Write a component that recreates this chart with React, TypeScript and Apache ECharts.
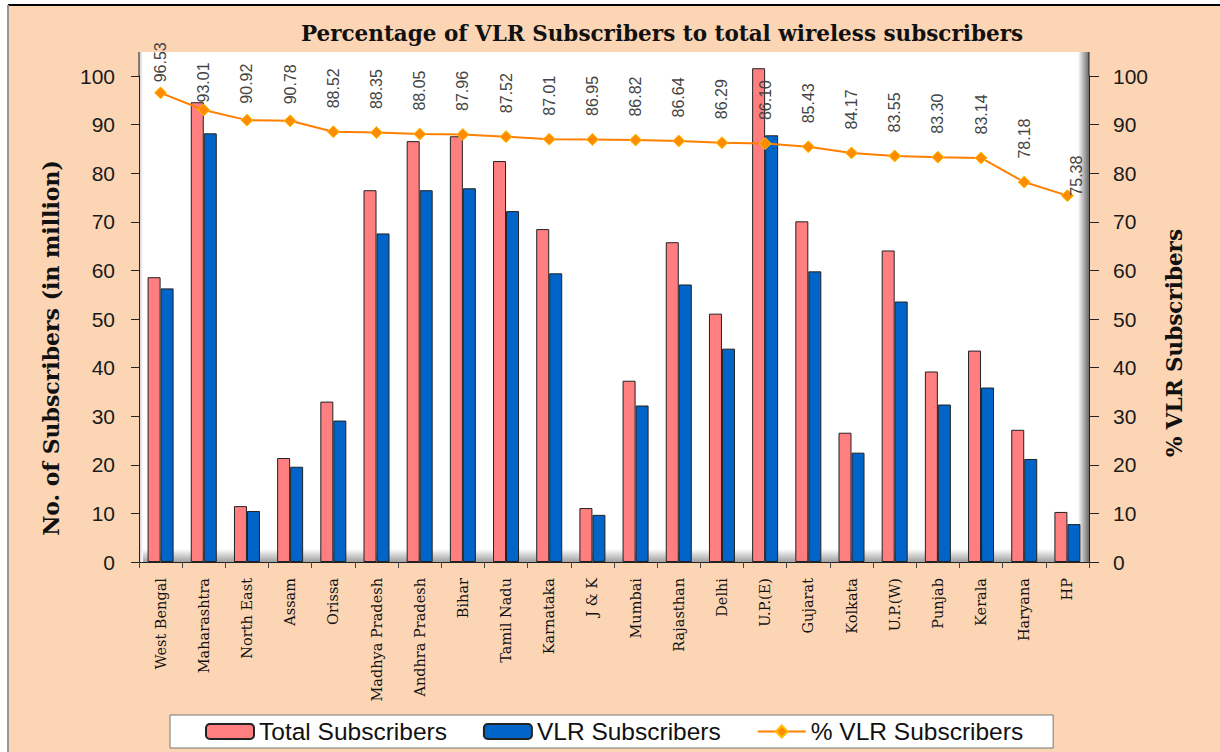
import React, { useEffect, useRef } from "react";
import * as echarts from "echarts";

const categories = [
  "West Bengal", "Maharashtra", "North East", "Assam", "Orissa", "Madhya Pradesh",
  "Andhra Pradesh", "Bihar", "Tamil Nadu", "Karnataka", "J & K", "Mumbai",
  "Rajasthan", "Delhi", "U.P.(E)", "Gujarat", "Kolkata", "U.P.(W)", "Punjab",
  "Kerala", "Haryana", "HP",
];
const totalSubscribers = [
  58.6, 94.6, 11.5, 21.4, 33.0, 76.5, 86.6, 87.6, 82.5, 68.5, 11.1, 37.3,
  65.8, 51.1, 101.6, 70.1, 26.6, 64.1, 39.2, 43.5, 27.2, 10.3,
];
const vlrSubscribers = [
  56.3, 88.2, 10.5, 19.6, 29.1, 67.6, 76.5, 76.9, 72.2, 59.4, 9.7, 32.2,
  57.1, 43.9, 87.8, 59.8, 22.5, 53.6, 32.4, 35.9, 21.2, 7.8,
];
const vlrPercent = [
  96.53, 93.01, 90.92, 90.78, 88.52, 88.35, 88.05, 87.96, 87.52, 87.01, 86.95,
  86.82, 86.64, 86.29, 86.1, 85.43, 84.17, 83.55, 83.3, 83.14, 78.18, 75.38,
];
const yTicks = { min: 0, max: 100, interval: 10 };

const GL = 139, GR = 1089, GT = 76, GB = 562, PT = 52;

export default function App() {
  const ref = useRef<HTMLDivElement>(null);
  useEffect(() => {
    if (!ref.current) return;
    const chart = echarts.init(ref.current, undefined, { renderer: "svg" });
    const n = vlrPercent.length;
    const lineData = vlrPercent.map((v, i) => {
      if (i === 0) return { value: v, label: { distance: 4 } };
      if (i === 1) return { value: v, label: { distance: 1 } };
      if (i === 2 || i === 3) return { value: v, label: { distance: 10 } };
      if (i === n - 1) return { value: v, label: { position: "right", distance: 0, offset: [0, 3] } };
      return v;
    });
    const axisLabelStyle = { color: "#1a1a1a", fontSize: 21, fontFamily: "Liberation Sans, Arial, sans-serif" };
    chart.setOption({
      animation: false,
      backgroundColor: "#ffffff",
      title: {
        text: "Percentage of VLR Subscribers to total wireless subscribers",
        left: 657,
        top: 17,
        textAlign: "center",
        textStyle: { fontFamily: "DejaVu Serif, serif", fontWeight: "bold", fontSize: 21.5, color: "#111" },
      },
      graphic: {
        elements: [
          { type: "rect", z: -20, shape: { x: 9, y: 6, width: 1211, height: 746 }, style: { fill: "#FCD5B5" } },
          { type: "line", z: -19, shape: { x1: 8, y1: 5, x2: 1220, y2: 5 }, style: { stroke: "#000", lineWidth: 2 } },
          { type: "line", z: -19, shape: { x1: 8, y1: 5, x2: 8, y2: 752 }, style: { stroke: "#999", lineWidth: 2 } },
          { type: "rect", z: -18, shape: { x: GL, y: PT, width: GR - GL, height: GB - PT }, style: { fill: "#ffffff" } },
          {
            type: "rect", z: -17, shape: { x: GL, y: GB - 13, width: GR - GL, height: 13 },
            style: { fill: new echarts.graphic.LinearGradient(0, 0, 0, 1, [{ offset: 0, color: "#ffffff" }, { offset: 1, color: "#a0a0a0" }]) },
          },
          {
            type: "rect", z: -17, shape: { x: GR - 11, y: PT, width: 11, height: GB - PT },
            style: { fill: new echarts.graphic.LinearGradient(0, 0, 1, 0, [{ offset: 0, color: "#ffffff" }, { offset: 1, color: "#6a6a6a" }]) },
          },
          {
            type: "rect", z: -17, shape: { x: GL, y: PT, width: 4, height: GB - PT },
            style: { fill: new echarts.graphic.LinearGradient(0, 0, 1, 0, [{ offset: 0, color: "#c8c8c8" }, { offset: 1, color: "#ffffff" }]) },
          },
          { type: "line", z: 5, shape: { x1: GL, y1: PT, x2: GL, y2: GT }, style: { stroke: "#222", lineWidth: 1 } },
          { type: "line", z: 5, shape: { x1: GR, y1: PT, x2: GR, y2: GT }, style: { stroke: "#222", lineWidth: 1 } },
          {
            type: "text", z: 10, x: 51, y: 348, rotation: Math.PI / 2,
            style: {
              text: "No. of Subscribers (in million)", textAlign: "center", textVerticalAlign: "middle",
              fontFamily: "DejaVu Serif, serif", fontWeight: "bold", fontSize: 22, fill: "#111",
            },
          },
          {
            type: "text", z: 10, x: 1174, y: 343, rotation: Math.PI / 2,
            style: {
              text: "% VLR Subscribers", textAlign: "center", textVerticalAlign: "middle",
              fontFamily: "DejaVu Serif, serif", fontWeight: "bold", fontSize: 21.5, fill: "#111",
            },
          },
        ],
      },
      legend: {
        left: 170,
        top: 715,
        padding: [4, 30, 4, 35],
        backgroundColor: "#ffffff",
        borderColor: "#777",
        borderWidth: 1,
        borderRadius: 0,
        itemWidth: 48,
        itemHeight: 15,
        itemGap: 36,
        textStyle: { fontFamily: "Liberation Sans, Arial, sans-serif", fontSize: 24.5, color: "#111" },
        data: ["Total Subscribers", "VLR Subscribers", "% VLR Subscribers"],
      },
      grid: { left: GL, right: 1220 - GR, top: GT, bottom: 752 - GB },
      xAxis: {
        type: "category",
        data: categories,
        axisLine: { lineStyle: { color: "#222", width: 1 } },
        axisTick: { show: true, length: 6, lineStyle: { color: "#444" } },
        axisLabel: {
          rotate: 90, interval: 0, margin: 16, color: "#111", fontSize: 14.5,
          fontFamily: "DejaVu Serif, serif",
        },
      },
      yAxis: [
        {
          type: "value", ...yTicks, position: "left",
          axisLine: { show: true, lineStyle: { color: "#222" } },
          axisTick: { show: true, length: 8, lineStyle: { color: "#222" } },
          splitLine: { show: false },
          axisLabel: { ...axisLabelStyle, margin: 24 },
        },
        {
          type: "value", ...yTicks, position: "right",
          axisLine: { show: true, lineStyle: { color: "#222" } },
          axisTick: { show: true, length: 10, lineStyle: { color: "#222" } },
          splitLine: { show: false },
          axisLabel: { ...axisLabelStyle, margin: 24 },
        },
      ],
      series: [
        {
          name: "Total Subscribers", type: "bar", data: totalSubscribers, barWidth: 13, barGap: "0%",
          clip: false,
          itemStyle: { color: "#FF7F80", borderColor: "#222", borderWidth: 1 },
        },
        {
          name: "VLR Subscribers", type: "bar", data: vlrSubscribers, barWidth: 13, barGap: "0%",
          clip: false,
          itemStyle: { color: "#0064C8", borderColor: "#222", borderWidth: 1 },
        },
        {
          name: "% VLR Subscribers", type: "line", yAxisIndex: 1, data: lineData, clip: false, z: 5,
          symbol: "diamond", symbolSize: 12,
          lineStyle: { color: "#FF7F00", width: 2 },
          itemStyle: { color: "#FF8C00", borderColor: "#FFC000", borderWidth: 1 },
          label: {
            show: true, position: "top", distance: 17, rotate: 90, align: "left", verticalAlign: "middle",
            fontFamily: "Liberation Sans, Arial, sans-serif", fontSize: 16, color: "#444",
            formatter: (p: any) => Number(p.value).toFixed(2),
          },
        },
      ],
    });
    return () => chart.dispose();
  }, []);
  return (
    <div
      ref={ref}
      style={{ position: "absolute", left: 0, top: 0, width: 1220, height: 752 }}
    />
  );
}
